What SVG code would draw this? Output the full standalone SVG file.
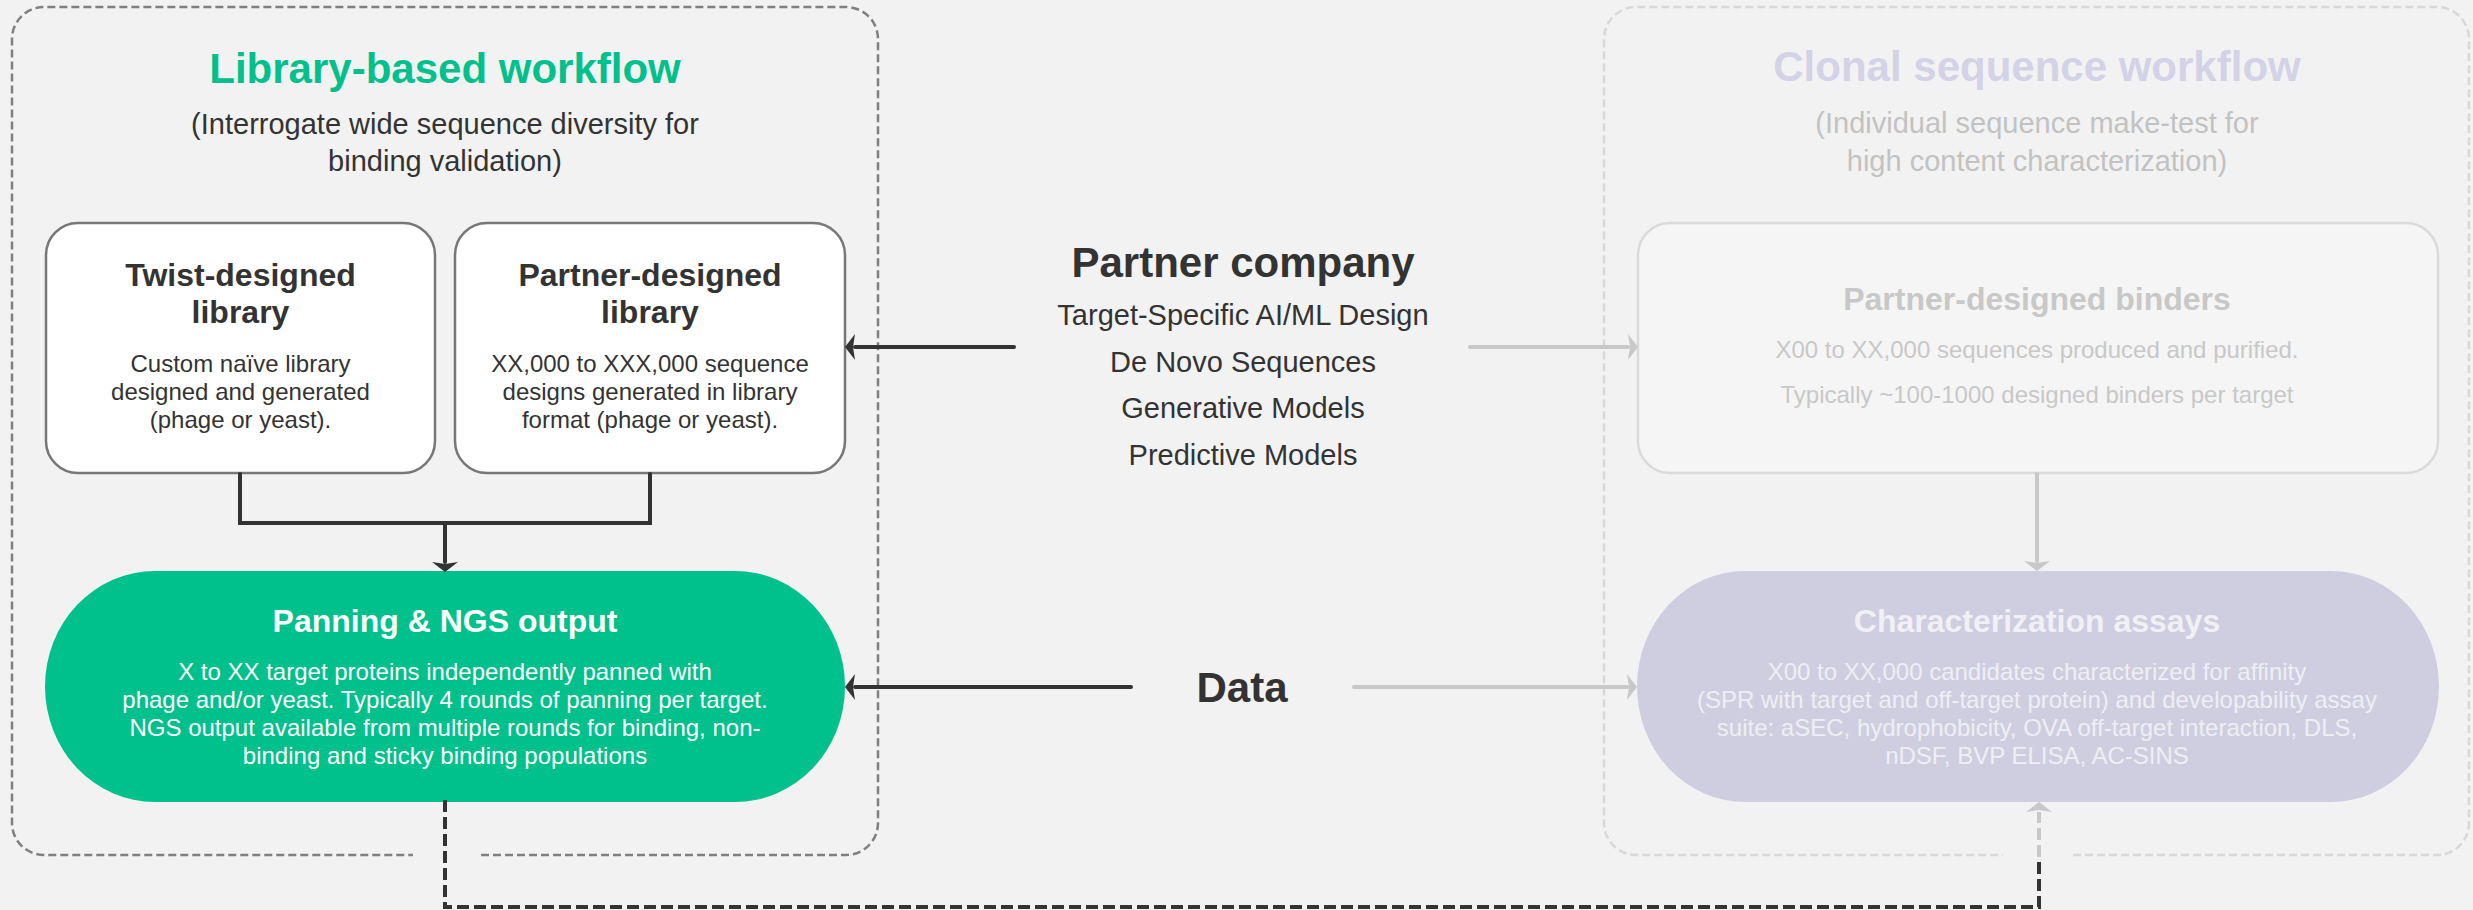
<svg xmlns="http://www.w3.org/2000/svg" width="2473" height="910" viewBox="0 0 2473 910">
  <style>
    text { font-family: "Liberation Sans", Arial, Helvetica, sans-serif; text-anchor: middle; }
    .h1 { font-size: 42px; font-weight: bold; }
    .sub { font-size: 29px; }
    .h2 { font-size: 32px; font-weight: bold; }
    .body { font-size: 24px; }
    .dark { fill: #333333; }
    .cont { fill: none; stroke-width: 2.5; stroke-dasharray: 8 4; }
    .solid { fill: none; stroke-width: 4; stroke-linecap: round; }
    .dash { fill: none; stroke-width: 4; stroke-dasharray: 12 5; }
  </style>
  <defs>
    <marker id="ahDark" viewBox="0 0 10 26" refX="0" refY="13" markerWidth="10" markerHeight="26" markerUnits="userSpaceOnUse" orient="auto">
      <path d="M0,0 L10,13 L0,26 L2,13 Z" fill="#333333"/>
    </marker>
    <marker id="ahGrey" viewBox="0 0 10 26" refX="0" refY="13" markerWidth="10" markerHeight="26" markerUnits="userSpaceOnUse" orient="auto">
      <path d="M0,0 L10,13 L0,26 L2,13 Z" fill="#c8c8c8"/>
    </marker>
  </defs>

  <rect x="0" y="0" width="2473" height="910" fill="#f2f2f2"/>

  <g id="library-workflow">
    <path class="cont" stroke="#808080" d="M481,855 H846 A32,32 0 0 0 878,823 V39 A32,32 0 0 0 846,7 H44 A32,32 0 0 0 12,39 V823 A32,32 0 0 0 44,855 H413"/>
    <text class="h1" x="445" y="83" fill="#00c08b">Library-based workflow</text>
    <text class="sub dark" x="445" y="134">(Interrogate wide sequence diversity for</text>
    <text class="sub dark" x="445" y="171">binding validation)</text>
  </g>

  <g id="twist-library">
    <rect x="46" y="223" width="389" height="250" rx="32" ry="32" fill="#ffffff" stroke="#777777" stroke-width="2.5"/>
    <text class="h2 dark" x="240.5" y="286">Twist-designed</text>
    <text class="h2 dark" x="240.5" y="323">library</text>
    <text class="body dark" x="240.5" y="372">Custom naïve library</text>
    <text class="body dark" x="240.5" y="400">designed and generated</text>
    <text class="body dark" x="240.5" y="428">(phage or yeast).</text>
  </g>

  <g id="partner-library">
    <rect x="455" y="223" width="390" height="250" rx="32" ry="32" fill="#ffffff" stroke="#777777" stroke-width="2.5"/>
    <text class="h2 dark" x="650" y="286">Partner-designed</text>
    <text class="h2 dark" x="650" y="323">library</text>
    <text class="body dark" x="650" y="372">XX,000 to XXX,000 sequence</text>
    <text class="body dark" x="650" y="400">designs generated in library</text>
    <text class="body dark" x="650" y="428">format (phage or yeast).</text>
  </g>

  <g id="panning-ngs">
    <rect x="45" y="571" width="800" height="231" rx="110" ry="115.5" fill="#00c08b"/>
    <text class="h2" x="445" y="632" fill="#ffffff">Panning &amp; NGS output</text>
    <text class="body" x="445" y="680" fill="#ffffff">X to XX target proteins independently panned with</text>
    <text class="body" x="445" y="708" fill="#ffffff">phage and/or yeast. Typically 4 rounds of panning per target.</text>
    <text class="body" x="445" y="736" fill="#ffffff">NGS output available from multiple rounds for binding, non-</text>
    <text class="body" x="445" y="764" fill="#ffffff">binding and sticky binding populations</text>
  </g>

  <g id="partner-company">
    <text class="h1 dark" x="1243" y="277">Partner company</text>
    <text class="sub dark" x="1243" y="325">Target-Specific AI/ML Design</text>
    <text class="sub dark" x="1243" y="372">De Novo Sequences</text>
    <text class="sub dark" x="1243" y="418">Generative Models</text>
    <text class="sub dark" x="1243" y="465">Predictive Models</text>
  </g>

  <g id="data">
    <text class="h1 dark" x="1242" y="702">Data</text>
  </g>

  <g id="clonal-workflow">
    <path class="cont" stroke="#d8d8d8" d="M2073,855 H2437 A32,32 0 0 0 2469,823 V39 A32,32 0 0 0 2437,7 H1636 A32,32 0 0 0 1604,39 V823 A32,32 0 0 0 1636,855 H2003"/>
    <text class="h1" x="2037" y="81" fill="#d4d2e6">Clonal sequence workflow</text>
    <text class="sub" x="2037" y="133" fill="#c2c2c2">(Individual sequence make-test for</text>
    <text class="sub" x="2037" y="171" fill="#c2c2c2">high content characterization)</text>
  </g>

  <g id="partner-binders">
    <rect x="1638" y="223" width="800" height="250" rx="32" ry="32" fill="#f5f5f5" stroke="#dadada" stroke-width="2.5"/>
    <text class="h2" x="2037" y="310" fill="#c8c8c8">Partner-designed binders</text>
    <text class="body" x="2037" y="358" fill="#c8c8c8">X00 to XX,000 sequences produced and purified.</text>
    <text class="body" x="2037" y="403" fill="#c8c8c8">Typically ~100-1000 designed binders per target</text>
  </g>

  <g id="characterization-assays">
    <rect x="1637" y="571" width="802" height="231" rx="108" ry="115.5" fill="#cfcee1"/>
    <text class="h2" x="2037" y="632" fill="#f0f0f5">Characterization assays</text>
    <text class="body" x="2037" y="680" fill="#eeeef4">X00 to XX,000 candidates characterized for affinity</text>
    <text class="body" x="2037" y="708" fill="#eeeef4">(SPR with target and off-target protein) and developability assay</text>
    <text class="body" x="2037" y="736" fill="#eeeef4">suite: aSEC, hydrophobicity, OVA off-target interaction, DLS,</text>
    <text class="body" x="2037" y="764" fill="#eeeef4">nDSF, BVP ELISA, AC-SINS</text>
  </g>

  <g id="connectors">
    <path class="solid" stroke="#333333" d="M240,474 V523 H650 V474"/>
    <path class="solid" stroke="#333333" d="M445,523 V562" marker-end="url(#ahDark)"/>
    <path class="solid" stroke="#333333" d="M1014,347 H855" marker-end="url(#ahDark)"/>
    <path class="solid" stroke="#333333" d="M1131,687 H855" marker-end="url(#ahDark)"/>
    <path class="solid" stroke="#c8c8c8" d="M1470,347 H1628" marker-end="url(#ahGrey)"/>
    <path class="solid" stroke="#c8c8c8" d="M1354,687 H1627" marker-end="url(#ahGrey)"/>
    <path class="solid" stroke="#c8c8c8" d="M2037,474 V561" marker-end="url(#ahGrey)"/>
    <path class="dash" stroke="#333333" d="M445,800 V907 H2039 V860"/>
    <path class="dash" stroke="#c8c8c8" d="M2039,857 V812" marker-end="url(#ahGrey)"/>
  </g>
</svg>
